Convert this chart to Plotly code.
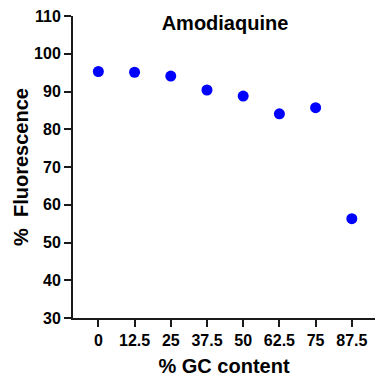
import plotly.graph_objects as go

gc_content = ["0", "12.5", "25", "37.5", "50", "62.5", "75", "87.5"]
fluorescence = [95.3, 95.1, 94.1, 90.4, 88.8, 84.1, 85.7, 56.3]
y_ticks = [30, 40, 50, 60, 70, 80, 90, 100, 110]

FONT = "Arial, 'Liberation Sans', sans-serif"

fig = go.Figure()
fig.add_trace(go.Scatter(
    x=gc_content, y=fluorescence, mode="markers",
    marker=dict(color="#0000FF", size=11, line=dict(width=0)),
    showlegend=False, cliponaxis=False,
))

fig.update_layout(
    width=375, height=383,
    margin=dict(l=73, r=0, t=16, b=65),
    paper_bgcolor="white", plot_bgcolor="white",
    title=dict(text="<b>Amodiaquine</b>", x=0.6, xanchor="center",
               y=1 - 23/383, yanchor="middle", yref="container",
               font=dict(family=FONT, size=20, color="black")),
    font=dict(family=FONT, color="black"),
)

fig.update_xaxes(
    type="category", range=[-0.7, 7.64],
    showline=True, linecolor="#1a1a1a", linewidth=2,
    ticks="outside", ticklen=7, tickwidth=2, tickcolor="#1a1a1a",
    showgrid=False, zeroline=False,
    tickfont=dict(family=FONT, size=16, color="black"),
    tickprefix="<b>", ticksuffix="</b>",
    title=dict(text="<b>% GC content</b>", standoff=11,
               font=dict(family=FONT, size=20, color="black")),
)
fig.update_yaxes(
    range=[30, 110], tickvals=y_ticks,
    ticktext=["<b>%d</b>" % v for v in y_ticks],
    showline=True, linecolor="#1a1a1a", linewidth=2,
    ticks="outside", ticklen=7, tickwidth=2, tickcolor="#1a1a1a",
    showgrid=False, zeroline=False,
    tickfont=dict(family=FONT, size=16, color="black"),
    title=dict(text="<b>%\u00a0 Fluorescence</b>", standoff=0,
               font=dict(family=FONT, size=20, color="black")),
)

fig.write_html("out.html")
